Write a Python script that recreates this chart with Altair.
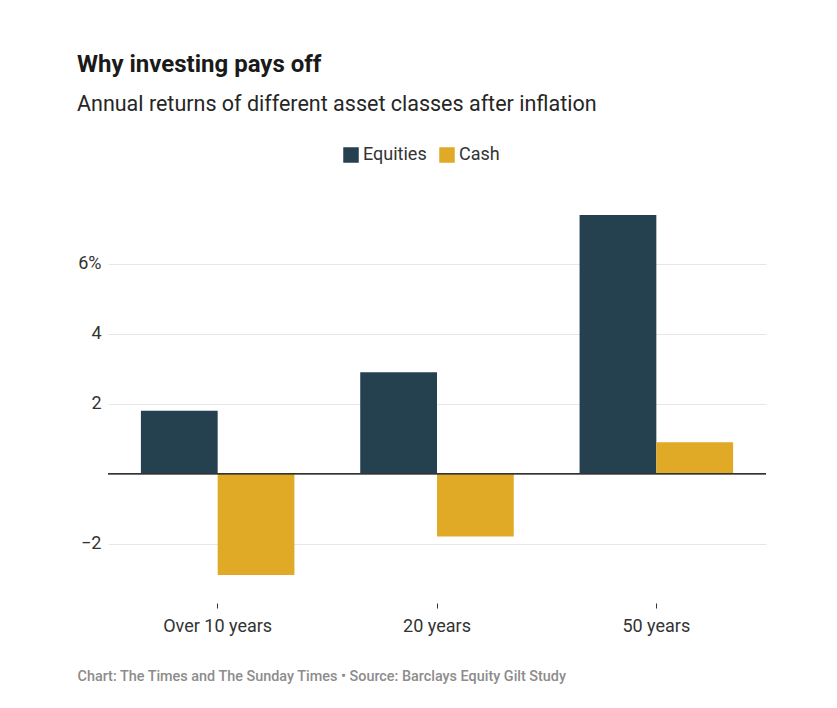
import altair as alt
import pandas as pd

periods = ["Over 10 years", "20 years", "50 years"]
series = ["Equities", "Cash"]
equities = [1.8, 2.9, 7.4]
cash = [-2.9, -1.8, 0.9]
colors = ["#25404f", "#e0aa27"]

rows = []
for p, e, c in zip(periods, equities, cash):
    rows.append({"period": p, "series": "Equities", "value": e})
    rows.append({"period": p, "series": "Cash", "value": c})
df = pd.DataFrame(rows)

footer = "Chart: The Times and The Sunday Times \u2022 Source: Barclays Equity Gilt Study"

bars = alt.Chart(df).mark_bar().encode(
    x=alt.X(
        "period:N",
        sort=periods,
        scale=alt.Scale(paddingInner=0.3, paddingOuter=0.15),
        axis=alt.Axis(
            title=footer,
            titleAnchor="start",
            titleAlign="left",
            titleX=-31,
            titleY=77,
            titleBaseline="alphabetic",
            titleColor="#8c8c8c",
            titleFontSize=14.4,
            titleFontWeight=500,
            labelAngle=0,
            labelFontSize=18,
            labelColor="#333333",
            labelPadding=9,
            domain=False,
            ticks=True,
            tickColor="#333333",
            tickSize=5,
            grid=False,
        ),
    ),
    xOffset=alt.XOffset("series:N", sort=series, scale=alt.Scale(paddingInner=0, paddingOuter=0)),
    y=alt.Y(
        "value:Q",
        scale=alt.Scale(domain=[-3.7, 7.8], nice=False, zero=False),
        axis=alt.Axis(
            title=None,
            values=[-2, 0, 2, 4, 6],
            labelExpr="datum.value == 6 ? '6%' : (datum.value == 0 ? '' : datum.label)",
            labelFontSize=18,
            labelColor="#333333",
            labelPadding=7,
            domain=False,
            ticks=False,
            grid=True,
            gridColor="#e6e6e6",
        ),
    ),
    color=alt.Color(
        "series:N",
        sort=series,
        scale=alt.Scale(domain=series, range=colors),
        legend=alt.Legend(
            title=None,
            orient="none",
            legendX=234,
            legendY=-55,
            direction="horizontal",
            symbolType="square",
            symbolSize=240,
            symbolStrokeWidth=0,
            labelFontSize=18,
            labelColor="#333333",
            labelOffset=3,
            columnPadding=11,
        ),
    ),
)

zero = alt.Chart(df).mark_rule(color="#333333", strokeWidth=1).encode(y=alt.datum(0))

chart = alt.layer(bars, zero).properties(
    width=658,
    height=402,
    padding={"left": 69, "top": 44, "right": 20, "bottom": 10},
    title=alt.TitleParams(
        text="Why investing pays off",
        subtitle="Annual returns of different asset classes after inflation",
        anchor="start",
        frame="bounds",
        font="Roboto",
        fontSize=24,
        fontWeight="bold",
        color="#1a1a1a",
        subtitleFont="Roboto",
        subtitleFontSize=21.5,
        subtitleColor="#262626",
        subtitlePadding=17,
        offset=31,
    ),
).configure(font="Roboto").configure_view(stroke=None)

chart.save("out.html", embed_options={"renderer": "svg", "actions": False})
